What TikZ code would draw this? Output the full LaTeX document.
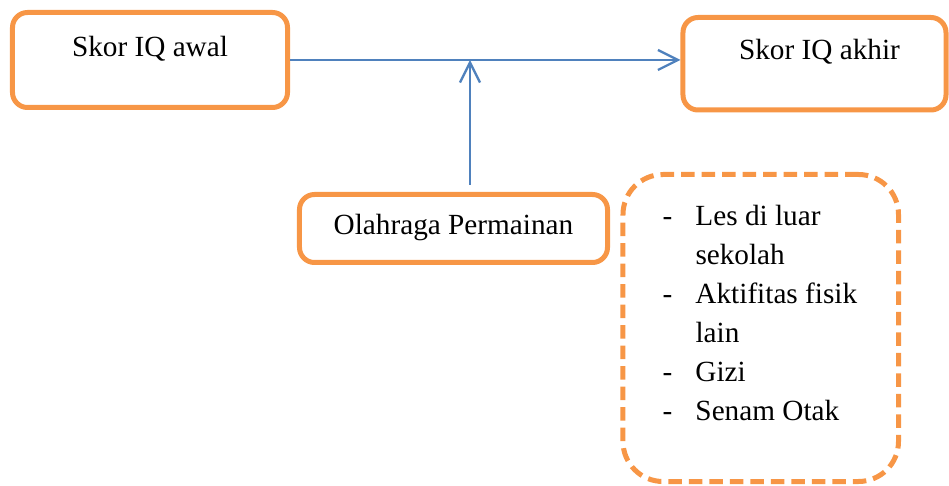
\documentclass[tikz,border=0pt]{standalone}
\usepackage{fontspec}
\setmainfont{Liberation Serif}
\usetikzlibrary{arrows.meta}
\definecolor{oranye}{HTML}{F79646}
\definecolor{biru}{HTML}{4F81BD}
\newcommand{\butir}{\makebox[13.2pt][l]{-}}
\newcommand{\lanjut}{\hspace*{13.2pt}}

\begin{document}
\begin{tikzpicture}[x=0.4pt, y=-0.4pt, >={Straight Barb[length=8pt,width=8pt]}, font=\fontsize{11.7}{15.6}\selectfont]

% Define block styles
\tikzstyle{block} = [draw=oranye, line width=2pt, rounded corners=6pt, inner xsep=0pt, inner ysep=0pt, align=center]
\tikzstyle{dashblock} = [block, rounded corners=16pt, dash pattern=on 5.4pt off 2.8pt]
\tikzstyle{panah} = [draw=biru, line width=0.9pt]

\useasboundingbox (0,0) rectangle (949,486);

% Nodes
\node [block, minimum width=110pt, text height=17.8pt, text depth=20.2pt] (awal) at (150,60) {Skor IQ awal};
\node [block, minimum width=105.2pt, text height=17pt, text depth=20pt] (akhir) at (814.5,63.75) {\hspace*{4pt}Skor IQ akhir};
\node [block, minimum width=123.2pt, text height=16.2pt, text depth=11pt] (olahraga) at (453.5,228.5) {Olahraga Permainan};
\node [dashblock, minimum width=110.2pt, minimum height=122.8pt] (lain) at (760.75,328) {};
\node [anchor=north west, inner sep=0pt, align=left] (daftar) at (662,205) {\butir Les di luar\\
  \lanjut sekolah\\
  \butir Aktifitas fisik\\
  \lanjut lain\\
  \butir Gizi\\
  \butir Senam Otak};
\coordinate (temu) at (470,60);

% Connections
\draw [panah, ->] (awal.east) -- (awal.east -| akhir.west);
\draw [panah, ->, shorten <=2.8pt] (temu |- olahraga.north) -- (temu);

\end{tikzpicture}
\end{document}
